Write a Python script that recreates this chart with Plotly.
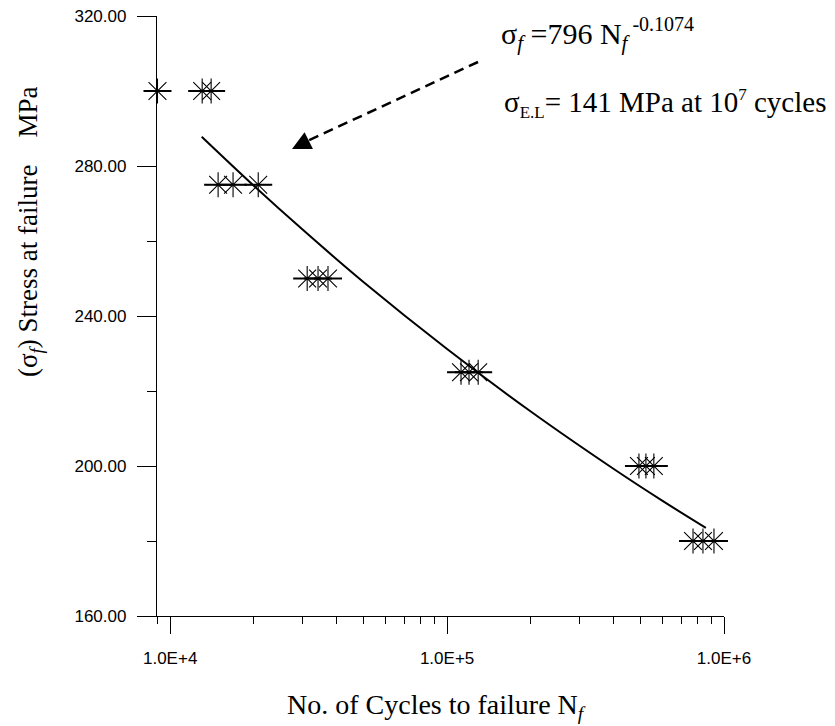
import plotly.graph_objects as go

# ---- data ----
cycles = [9000, 13050, 14060,
          14900, 16870, 20800,
          31250, 34200, 37150,
          112300, 120000, 129500,
          493000, 522500, 558000,
          773000, 839500, 920000]
stress = [300, 300, 300,
          275, 275, 275,
          250, 250, 250,
          225, 225, 225,
          200, 200, 200,
          180, 180, 180]

# fitted curve
fit_cycles = [13000, 20000, 30000, 50000, 100000, 200000, 400000, 600000, 860000]
fit_stress = [287.8, 274.8, 263.1, 249.0, 231.2, 214.6, 199.2, 190.7, 183.5]

x_tickvals = [1e4, 1e5, 1e6]
x_ticktext = ["1.0E+4", "1.0E+5", "1.0E+6"]

# ---- plot geometry (pixels) ----
W, H = 835, 726
L, R, T, B = 157, 724, 16, 616


def px(xp):
    return (xp - L) / (R - L)


def py(yp):
    return (B - yp) / (B - T)


serif = "Liberation Serif, Times New Roman, serif"
sans = "Liberation Sans, Arial, sans-serif"

fig = go.Figure()
fig.add_trace(go.Scatter(x=fit_cycles, y=fit_stress, mode="lines",
                         line=dict(color="black", width=2, shape="spline"),
                         cliponaxis=False, showlegend=False, hoverinfo="skip"))
fig.add_trace(go.Scatter(x=cycles, y=stress, mode="markers",
                         marker=dict(symbol="asterisk-open", size=21, color="black",
                                     line=dict(color="black", width=1.1)),
                         cliponaxis=False, showlegend=False))
fig.add_trace(go.Scatter(x=cycles, y=stress, mode="markers",
                         marker=dict(symbol="line-ew-open", size=20, color="black",
                                     line=dict(color="black", width=2)),
                         cliponaxis=False, showlegend=False, hoverinfo="skip"))

fig.update_layout(
    width=W, height=H, autosize=False,
    margin=dict(l=L, r=W - R, t=T, b=H - B, pad=0),
    paper_bgcolor="white", plot_bgcolor="white",
    showlegend=False,
    xaxis=dict(type="log", range=[3.9525, 6.0], tickmode="array",
               tickvals=x_tickvals, ticktext=x_ticktext,
               ticks="outside", ticklen=17, tickwidth=1.2, tickcolor="black",
               showline=True, linecolor="black", linewidth=1.3,
               showgrid=False, zeroline=False, automargin=False,
               ticklabelstandoff=9,
               tickfont=dict(family=sans, size=17, color="black"),
               minor=dict(ticks="outside", ticklen=7, tickwidth=1, tickcolor="black",
                          dtick="D1", showgrid=False)),
    yaxis=dict(range=[160, 320], tick0=160, dtick=40, tickformat=".2f",
               ticks="outside", ticklen=19, tickwidth=1.2, tickcolor="black",
               showline=True, linecolor="black", linewidth=1.3,
               showgrid=False, zeroline=False, automargin=False,
               ticklabelstandoff=7,
               tickfont=dict(family=sans, size=17, color="black"),
               minor=dict(ticks="outside", ticklen=9, tickwidth=1, tickcolor="black",
                          dtick=20, showgrid=False)),
)

# dashed arrow
fig.add_shape(type="line", xref="paper", yref="paper",
              x0=px(478), y0=py(62), x1=px(303), y1=py(143),
              line=dict(color="black", width=2.5, dash="10px,6px"))
fig.add_annotation(xref="paper", yref="paper", x=px(292), y=py(149),
                   ax=18, ay=-9, axref="pixel", ayref="pixel",
                   text="", showarrow=True, arrowhead=2, arrowsize=1.5,
                   arrowwidth=2.5, arrowcolor="black")

# equation texts
fig.add_annotation(xref="paper", yref="paper", x=px(499), y=py(34),
                   xanchor="left", yanchor="middle", showarrow=False,
                   text=("σ<sub><i>f</i></sub> =796 N<sub><i>f</i></sub>"
                         "<sup><span style='font-size:20px'> -0.1074</span></sup>"),
                   font=dict(family=serif, size=30, color="black"))
fig.add_annotation(xref="paper", yref="paper", x=px(502), y=py(104),
                   xanchor="left", yanchor="middle", showarrow=False,
                   text=("σ<sub><span style='font-size:17px'>E.L</span></sub>= 141 MPa at 10"
                         "<sup><span style='font-size:17px'>7</span></sup> cycles"),
                   font=dict(family=serif, size=29, color="black"))

# axis titles
fig.add_annotation(xref="paper", yref="paper", x=px(436), y=py(706),
                   xanchor="center", yanchor="middle", showarrow=False,
                   text="No. of Cycles to failure N<sub><i>f</i></sub>",
                   font=dict(family=serif, size=28, color="black"))
fig.add_annotation(xref="paper", yref="paper", x=px(30), y=py(232),
                   xanchor="center", yanchor="middle", showarrow=False,
                   textangle=-90,
                   text="(σ<sub><i>f</i></sub>) Stress at failure&nbsp;&nbsp;&nbsp;&nbsp;MPa",
                   font=dict(family=serif, size=27, color="black"))

fig.write_html("out.html")
